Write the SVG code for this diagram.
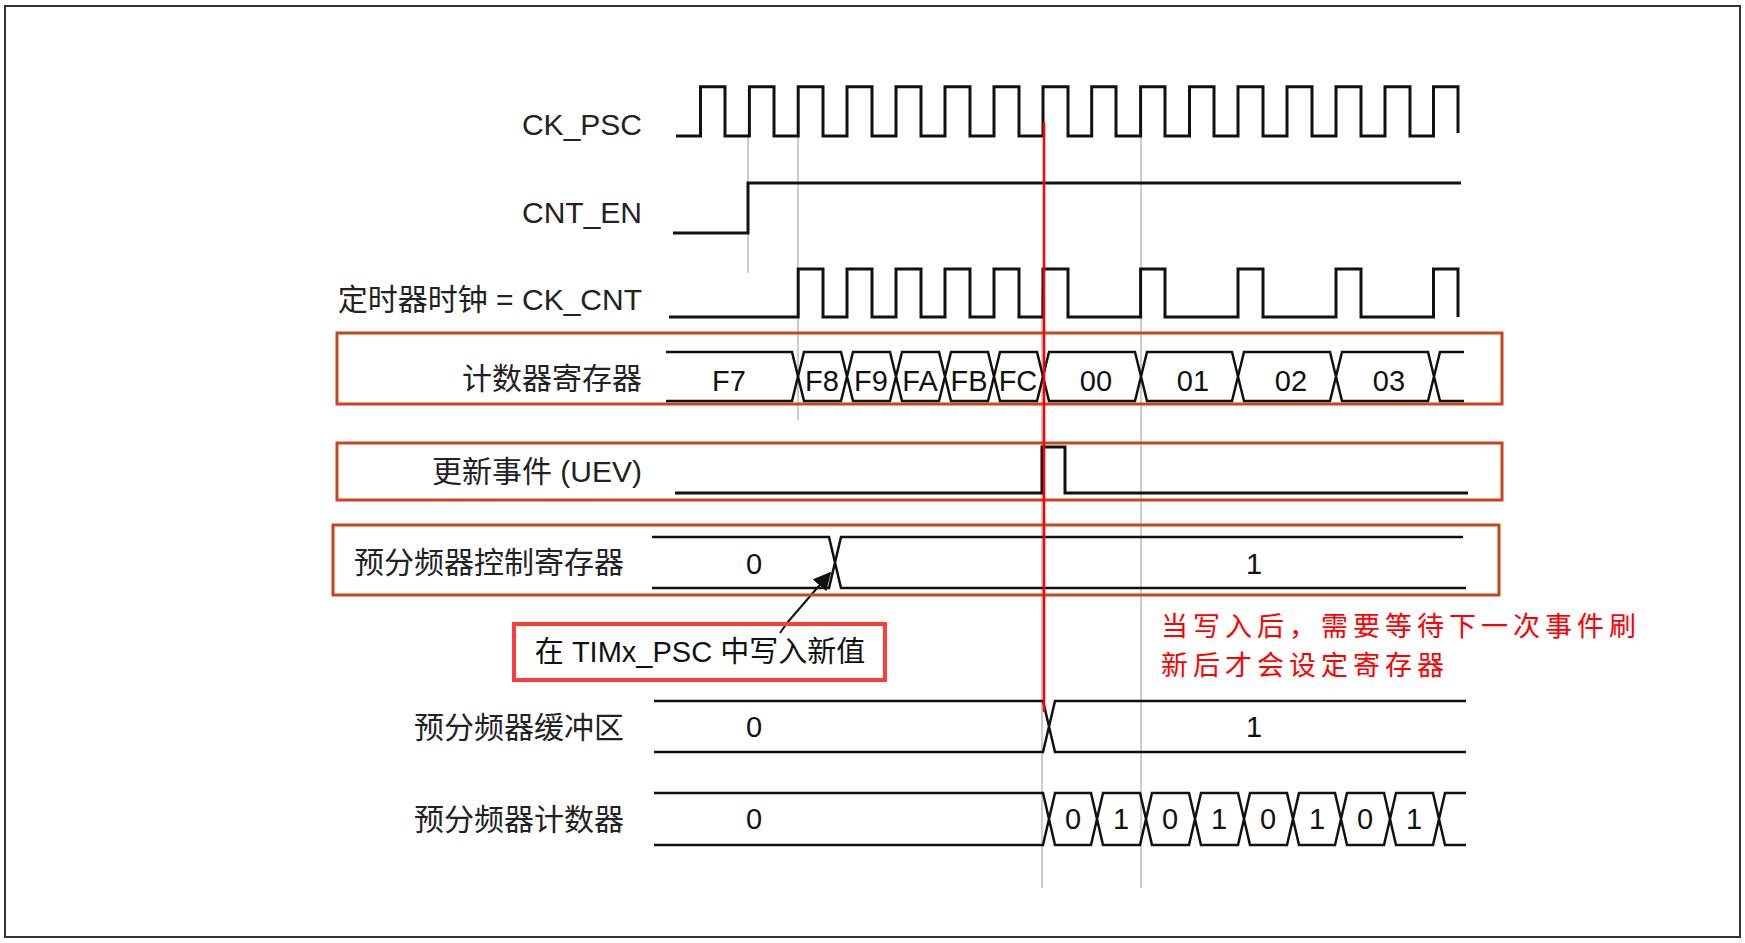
<svg xmlns="http://www.w3.org/2000/svg" width="1745" height="943" viewBox="0 0 1745 943">
<style>
.sig{fill:none;stroke:#111;stroke-width:3;stroke-linejoin:miter}
.bus{fill:none;stroke:#111;stroke-width:2.5}
.grid{stroke:#aaa;stroke-width:1.2}
.ob{fill:none;stroke:#c8461e;stroke-width:3}
.lbl{font-family:"Liberation Sans","Noto Sans CJK SC",sans-serif;font-size:30px;fill:#222;text-anchor:end}
.val{font-family:"Liberation Sans","Noto Sans CJK SC",sans-serif;font-size:29px;fill:#111;text-anchor:middle}
.note{font-family:"Noto Sans CJK SC",sans-serif;font-size:27px;fill:#ff0000;letter-spacing:5px}
</style>
<defs><marker id="ah" viewBox="0 0 10 10" refX="9" refY="5" markerWidth="9" markerHeight="9" orient="auto"><path d="M0,0 L10,5 L0,10 Z" fill="#111"/></marker></defs>
<rect x="0" y="0" width="1745" height="943" fill="#fff"/>
<rect x="5" y="6" width="1735" height="931" fill="none" stroke="#333" stroke-width="2"/>

<g id="labels">
<text class="lbl" x="642" y="135">CK_PSC</text>
<text class="lbl" x="642" y="223">CNT_EN</text>
<text class="lbl" x="642" y="310">定时器时钟 = CK_CNT</text>
<text class="lbl" x="642" y="389">计数器寄存器</text>
<text class="lbl" x="642" y="482">更新事件 (UEV)</text>
<text class="lbl" x="624" y="573">预分频器控制寄存器</text>
<text class="lbl" x="624" y="738">预分频器缓冲区</text>
<text class="lbl" x="624" y="830">预分频器计数器</text>
</g>

<g id="connectors">
<line class="grid" x1="748" y1="136" x2="748" y2="273"/>
<line class="grid" x1="798" y1="136" x2="798" y2="420"/>
<line class="grid" x1="1042" y1="290" x2="1042" y2="888"/>
<line class="grid" x1="1141" y1="136" x2="1141" y2="888"/>
<line x1="787" y1="623" x2="830" y2="573" stroke="#111" stroke-width="2" marker-end="url(#ah)"/>
<line x1="780" y1="633" x2="787" y2="623" stroke="#111" stroke-width="2"/>
</g>

<g id="ck_psc"><path class="sig" d="M676,136 H700.5 V86.7 H725 V136 H749.4 V86.7 H774 V136 H798.2 V86.7 H823 V136 H847 V86.7 H872 V136 H896 V86.7 H921 V136 H945 V86.7 H970 V136 H994 V86.7 H1019 V136 H1043 V86.7 H1068 V136 H1091.7 V86.7 H1116 V136 H1140.6 V86.7 H1165 V136 H1189.5 V86.7 H1214 V136 H1238 V86.7 H1263 V136 H1287 V86.7 H1312 V136 H1336 V86.7 H1361 V136 H1385 V86.7 H1410 V136 H1433.5 V86.7 H1458 V133"/></g>
<g id="cnt_en"><path class="sig" d="M673,233 H748 V183 H1461"/></g>
<g id="ck_cnt"><path class="sig" d="M669,317 H798.2 V269 H823 V317 H847 V269 H872 V317 H896 V269 H921 V317 H945 V269 H970 V317 H994 V269 H1019 V317 H1043 V269 H1068 V317 H1140.6 V269 H1165 V317 H1238 V269 H1263 V317 H1336 V269 H1361 V317 H1433.5 V269 H1458 V317"/></g>

<g id="counter_register">
<rect class="ob" x="337" y="333" width="1165" height="71"/>
<path class="bus" d="M666,352 H792 L798,376.5 L792,401 H666"/>
<path class="bus" d="M798,376.5 L804,352 H841 L847,376.5 L841,401 H804 Z M847,376.5 L853,352 H890 L896,376.5 L890,401 H853 Z M896,376.5 L902,352 H939 L945,376.5 L939,401 H902 Z M945,376.5 L951,352 H988 L994,376.5 L988,401 H951 Z M994,376.5 L1000,352 H1037 L1043,376.5 L1037,401 H1000 Z M1043,376.5 L1049,352 H1135 L1141,376.5 L1135,401 H1049 Z M1141,376.5 L1147,352 H1232 L1238,376.5 L1232,401 H1147 Z M1238,376.5 L1244,352 H1330 L1336,376.5 L1330,401 H1244 Z M1336,376.5 L1342,352 H1428 L1434,376.5 L1428,401 H1342 Z M1464,352 H1440 L1434,376.5 L1440,401 H1464"/>
<text class="val" x="729" y="391">F7</text>
<text class="val" x="822" y="391">F8</text>
<text class="val" x="871" y="391">F9</text>
<text class="val" x="920" y="391">FA</text>
<text class="val" x="969" y="391">FB</text>
<text class="val" x="1018" y="391">FC</text>
<text class="val" x="1096" y="391">00</text>
<text class="val" x="1193" y="391">01</text>
<text class="val" x="1291" y="391">02</text>
<text class="val" x="1389" y="391">03</text>
</g>

<g id="uev">
<rect class="ob" x="337" y="443" width="1165" height="57"/>
<path class="sig" d="M675,493 H1042 V447 H1065 V493 H1468"/>
</g>

<g id="prescaler_control">
<rect class="ob" x="333" y="525" width="1166" height="70"/>
<path class="bus" d="M652,537 H829 L835,562.5 L829,588 H652 M1463,537 H841 L835,562.5 L841,588 H1466"/>
<text class="val" x="754" y="574">0</text>
<text class="val" x="1254" y="574">1</text>
</g>

<g id="write_note">
<rect x="514" y="624" width="371" height="56" fill="none" stroke="#ff3b3b" stroke-width="4"/>
<text class="val" x="700" y="662" fill="#222">在 TIMx_PSC 中写入新值</text>
</g>

<g id="red_note">
<text class="note" x="1161" y="636">当写入后，需要等待下一次事件刷</text>
<text class="note" x="1161" y="675">新后才会设定寄存器</text>
</g>

<g id="prescaler_buffer">
<path class="bus" d="M654,701 H1043 L1049,726.5 L1043,752 H654 M1466,701 H1055 L1049,726.5 L1055,752 H1466"/>
<text class="val" x="754" y="737">0</text>
<text class="val" x="1254" y="737">1</text>
</g>

<g id="prescaler_counter">
<path class="bus" d="M654,793 H1043 L1049,819 L1043,845 H654 M1049,819 L1055,793 H1091 L1097,819 L1091,845 H1055 Z M1097,819 L1103,793 H1140 L1146,819 L1140,845 H1103 Z M1146,819 L1152,793 H1189 L1195,819 L1189,845 H1152 Z M1195,819 L1201,793 H1238 L1244,819 L1238,845 H1201 Z M1244,819 L1250,793 H1287 L1293,819 L1287,845 H1250 Z M1293,819 L1299,793 H1335 L1341,819 L1335,845 H1299 Z M1341,819 L1347,793 H1384 L1390,819 L1384,845 H1347 Z M1390,819 L1396,793 H1433 L1439,819 L1433,845 H1396 Z M1466,793 H1445 L1439,819 L1445,845 H1466"/>
<text class="val" x="754" y="829">0</text>
<text class="val" x="1073" y="829">0</text>
<text class="val" x="1121" y="829">1</text>
<text class="val" x="1170" y="829">0</text>
<text class="val" x="1219" y="829">1</text>
<text class="val" x="1268" y="829">0</text>
<text class="val" x="1317" y="829">1</text>
<text class="val" x="1365" y="829">0</text>
<text class="val" x="1414" y="829">1</text>
</g>

<g id="red_line"><line x1="1044" y1="122" x2="1044" y2="712" stroke="#ff0000" stroke-width="2.5"/></g>
</svg>
